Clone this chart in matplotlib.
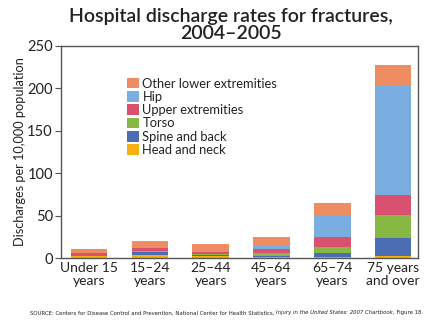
import numpy as np
import matplotlib
matplotlib.use("Agg")
import matplotlib.pyplot as plt

plt.rcParams['font.family'] = ['Lato', 'DejaVu Sans']

age_groups = ['Under 15\nyears', '15–24\nyears', '25–44\nyears',
              '45–64\nyears', '65–74\nyears', '75 years\nand over']

# discharges per 10,000 population, by fracture site
head_neck = [2.0, 4.0, 2.0, 1.0, 1.0, 3.0]
spine_back = [0.5, 3.0, 1.5, 2.0, 5.0, 21.0]
torso = [0.5, 1.0, 1.5, 2.5, 7.0, 27.0]
upper_ext = [3.0, 3.5, 2.0, 5.0, 12.0, 23.0]
hip = [0.2, 1.0, 0.5, 4.0, 24.0, 129.0]
other_lower = [4.5, 7.5, 9.5, 10.0, 16.0, 24.0]

series = [
    ('Head and neck', head_neck, '#F5B10F'),
    ('Spine and back', spine_back, '#4A6DB4'),
    ('Torso', torso, '#86B843'),
    ('Upper extremities', upper_ext, '#D9516F'),
    ('Hip', hip, '#7AAEE0'),
    ('Other lower extremities', other_lower, '#EE8D62'),
]

fig = plt.figure(figsize=(4.4, 3.3), dpi=100)
ax = fig.add_axes([0.139, 0.218, 0.811, 0.643])

x = np.arange(len(age_groups))
bottom = np.zeros(len(age_groups))
handles = []
for name, vals, color in series:
    b = ax.bar(x, vals, 0.6, bottom=bottom, color=color, label=name, linewidth=0)
    handles.append(b)
    bottom += np.array(vals)

ax.set_ylim(0, 250)
ax.set_xlim(-0.46, 5.41)
ax.set_yticks([0, 50, 100, 150, 200, 250])
ax.set_xticks(x)
ax.set_xticklabels(age_groups, fontsize=10, color='#222222', linespacing=1.1)
ax.tick_params(axis='x', length=0, pad=3)
ax.tick_params(axis='y', labelsize=10.5, labelcolor='#222222', length=4,
               color='#555555', pad=2)
for s in ax.spines.values():
    s.set_color('#555555')
    s.set_linewidth(1.0)

ax.set_ylabel('Discharges per 10,000 population', fontsize=9.2, color='#222222',
              labelpad=1)

leg = ax.legend(handles[::-1], [h.get_label() for h in handles[::-1]],
                loc='upper left', bbox_to_anchor=(0.17, 0.875), frameon=False,
                fontsize=9.3, handlelength=0.9, handleheight=0.9,
                handletextpad=0.3, labelspacing=0.1, borderaxespad=0)
for t in leg.get_texts():
    t.set_color('#222222')

fig.text(0.525, 0.975, 'Hospital discharge rates for fractures,\n2004–2005',
         ha='center', va='top', fontsize=14, fontweight='semibold',
         color='#222222', linespacing=1.0)

# source line with italic publication title
fig.canvas.draw()
renderer = fig.canvas.get_renderer()
parts = [
    ('SOURCE: Centers for Disease Control and Prevention, National Center for Health Statistics, ', 'normal'),
    ('Injury in the United States: 2007 Chartbook', 'italic'),
    (', Figure 18.', 'normal'),
]
xpos = 0.068
for txt, style in parts:
    t = fig.text(xpos, 0.052, txt, fontsize=3.9, style=style, color='#222222',
                 family='DejaVu Sans', ha='left', va='center')
    bb = t.get_window_extent(renderer=renderer)
    xpos += bb.width / fig.bbox.width

fig.savefig('out.png', dpi=100)
